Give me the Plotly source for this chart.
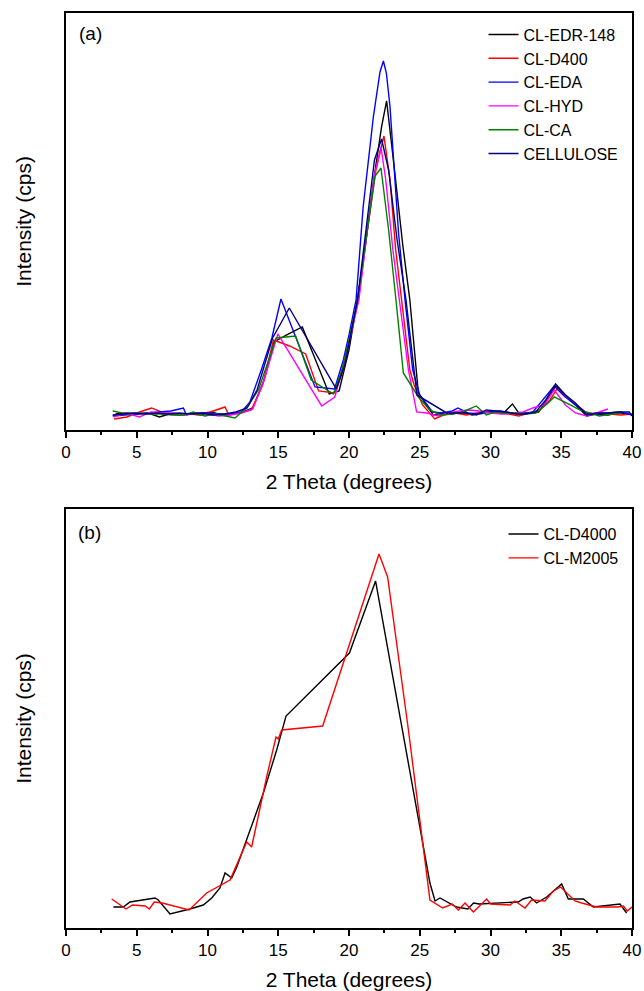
import plotly.graph_objects as go

# ---------------- Panel (a) data ----------------
edr_x = [3.5, 4.3, 5.0, 5.8, 6.6, 7.3, 8.0, 8.8, 9.5, 10.3, 11.0, 11.8, 12.5, 13.2, 14.0, 14.7, 15.6, 16.7, 18.6, 19.3,
         20.0, 20.6, 21.2, 21.8, 22.3, 22.66, 23.2, 23.8, 24.3, 24.9, 25.95, 26.6, 27.3, 28.0, 28.7, 29.5, 30.2, 31.0,
         31.55, 32.0, 32.7, 33.4, 34.0, 34.6, 35.3, 36.0, 36.8, 37.5, 38.3, 39.0, 39.8]
edr_y = [16, 17, 16, 17, 13, 16, 15, 16, 15, 18, 15, 16, 18, 22, 50, 88, 95, 103, 36, 39,
         80, 130, 190, 255, 303, 329, 262, 185, 130, 37, 15, 17, 16, 18, 15, 18, 19, 18,
         26, 17, 17, 18, 30, 44, 35, 25, 14, 16, 15, 17, 16]

d400_x = [3.4, 4.3, 5.2, 6.05, 6.9, 7.7, 8.5, 9.3, 10.2, 11.24, 11.5, 12.3, 13.1, 13.9, 14.66, 15.8, 16.94, 17.85, 19.0,
          19.6, 20.2, 20.66, 21.3, 21.9, 22.47, 22.9, 23.3, 23.72, 24.3, 24.6, 25.2, 26.06, 26.7, 27.5, 28.3, 29.0, 29.8,
          30.5, 31.3, 32.0, 32.8, 33.5, 34.2, 34.7, 35.4, 36.2, 36.9, 37.6, 38.4, 39.2, 40.0]
d400_y = [11, 13, 18, 22, 17, 16, 16, 16, 18, 23, 15, 17, 20, 45, 90, 84, 76, 39, 37,
          60, 100, 130, 200, 260, 294, 250, 180, 130, 60, 45, 25, 11, 15, 17, 15, 17, 18,
          17, 16, 14, 17, 20, 30, 41, 33, 24, 16, 17, 16, 15, 16]

eda_x = [3.3, 4.2, 5.0, 5.8, 6.6, 7.4, 8.3, 8.5, 9.2, 10.0, 10.8, 11.6, 12.4, 13.0, 13.8, 14.55, 15.19, 17.6, 18.98,
         19.6, 20.0, 20.5, 21.0, 21.72, 22.19, 22.43, 22.64, 22.9, 23.5, 23.96, 24.5, 25.0, 25.9, 26.6, 27.3, 27.7, 28.4,
         29.2, 30.0, 30.7, 31.5, 32.2, 33.0, 33.7, 34.5, 35.2, 36.0, 36.8, 37.5, 38.3, 39.2, 40.0]
eda_y = [14, 15, 16, 17, 18, 19, 22, 15, 17, 17, 16, 16, 18, 28, 60, 92, 131, 43, 41,
         70, 95, 130, 223, 313, 358, 369, 357, 323, 197, 130, 60, 35, 18, 17, 19, 22, 17,
         16, 18, 19, 17, 16, 18, 30, 44, 34, 25, 17, 16, 17, 18, 15]

hyd_x = [3.35, 4.2, 5.2, 6.0, 6.8, 7.6, 8.4, 9.2, 10.0, 10.8, 11.6, 12.4, 13.2, 14.0, 14.97, 16.5, 18.07, 19.0, 19.7,
         20.2, 20.7, 21.3, 21.8, 22.26, 22.6, 23.1, 23.57, 24.2, 24.78, 25.5, 26.3, 27.0, 27.8, 28.5, 29.2, 30.0, 30.8,
         31.5, 32.3, 33.0, 33.8, 34.5, 35.3, 36.0, 36.8, 37.5, 38.3]
hyd_y = [13, 17, 13, 18, 17, 17, 15, 17, 16, 14, 15, 17, 21, 50, 96, 60, 24, 33, 70,
         100, 130, 200, 255, 283, 250, 180, 130, 60, 18, 17, 14, 17, 19, 20, 19, 17, 16,
         17, 18, 22, 25, 40, 25, 17, 14, 17, 21]

ca_x = [3.3, 4.3, 5.1, 5.9, 6.7, 7.5, 8.3, 9.0, 9.8, 10.6, 11.94, 12.76, 13.6, 14.3, 14.85, 16.23, 17.33, 18.9, 19.5,
        20.0, 20.6, 21.3, 21.84, 22.26, 22.8, 23.32, 23.84, 24.9, 25.7, 26.5, 27.2, 28.0, 29.0, 29.7, 30.3, 31.0, 31.8,
        32.5, 33.2, 34.0, 34.5, 35.5, 36.3, 37.0, 37.7, 38.5, 39.3]
ca_y = [19, 16, 17, 16, 16, 15, 15, 18, 14, 16, 12, 22, 40, 70, 92, 94, 50, 36, 60,
        90, 130, 200, 254, 262, 200, 130, 57, 33, 20, 15, 16, 18, 24, 15, 18, 17, 17,
        16, 17, 26, 33, 26, 20, 17, 14, 16, 17]

cel_x = [3.3, 4.0, 4.8, 5.6, 6.4, 7.2, 8.0, 8.8, 9.6, 10.4, 11.2, 12.0, 12.8, 13.5, 14.6, 15.78, 19.1, 19.7, 20.2,
         20.6, 21.2, 21.8, 22.3, 22.8, 23.4, 24.03, 24.8, 26.9, 27.6, 28.3, 29.0, 29.7, 30.4, 31.1, 31.8, 32.5, 33.2,
         33.9, 34.6, 35.3, 36.0, 36.8, 37.5, 38.3, 39.0, 39.8, 40.0]
cel_y = [15, 16, 17, 16, 17, 16, 17, 16, 17, 15, 16, 18, 22, 40, 92, 122, 41, 65, 100,
         130, 200, 270, 291, 260, 190, 130, 35, 17, 17, 17, 15, 20, 19, 18, 16, 16, 18,
         30, 46, 35, 27, 15, 17, 17, 18, 18, 14]

# ---------------- Panel (b) data ----------------
d4000_x = [3.35, 4.05, 4.52, 6.29, 6.52, 7.35, 8.76, 9.7, 10.3, 10.88, 11.24, 11.71, 12.07, 12.77, 13.95, 14.89, 15.55,
           20.03, 21.88, 25.72, 26.08, 26.43, 27.6, 28.4, 28.8, 29.2, 30.67, 31.96, 32.3, 32.8, 33.26, 33.97, 35.03,
           35.5, 36.56, 37.27, 39.15, 39.62]
d4000_y = [21, 21, 26, 30, 28, 14, 19, 23, 30, 40, 55, 50, 61, 88, 135, 178, 212,
           275, 347, 45, 27, 30, 21, 19, 25, 24, 25, 26, 29, 31, 25, 31, 44,
           29, 29, 21, 24, 15]

m2005_x = [3.23, 4.24, 4.7, 5.6, 5.89, 6.24, 6.8, 8.7, 9.94, 11.59, 12.77, 13.12, 14.18, 14.84, 15.0, 15.24, 18.14,
           22.12, 22.73, 24.2, 25.72, 26.62, 27.3, 27.73, 28.2, 28.79, 29.73, 30.0, 31.38, 31.73, 32.44, 32.9, 33.85,
           34.44, 34.96, 35.97, 36.44, 37.5, 39.0, 39.4, 39.67, 40.0]
m2005_y = [29, 19, 23, 22, 19, 26, 25, 18, 35, 48, 86, 81, 151, 191, 189, 198, 202,
           374, 351, 198, 28, 20, 24, 18, 25, 16, 29, 24, 23, 27, 20, 28, 27,
           37, 41, 27, 25, 21, 21, 22, 17, 21]

x_ticks = [0, 5, 10, 15, 20, 25, 30, 35, 40]

FONT = "Liberation Sans, Arial, sans-serif"

series_a = [
    ("CL-EDR-148", edr_x, edr_y, "#000000"),
    ("CL-D400", d400_x, d400_y, "#FF0000"),
    ("CL-EDA", eda_x, eda_y, "#0000FF"),
    ("CL-HYD", hyd_x, hyd_y, "#FF00FF"),
    ("CL-CA", ca_x, ca_y, "#008000"),
    ("CELLULOSE", cel_x, cel_y, "#000080"),
]
series_b = [
    ("CL-D4000", d4000_x, d4000_y, "#000000"),
    ("CL-M2005", m2005_x, m2005_y, "#FF0000"),
]

fig = go.Figure()
for name, xs, ys, col in series_a:
    fig.add_trace(go.Scatter(x=xs, y=ys, mode="lines", name=name,
                             line=dict(color=col, width=1.4),
                             xaxis="x", yaxis="y", legend="legend"))
for name, xs, ys, col in series_b:
    fig.add_trace(go.Scatter(x=xs, y=ys, mode="lines", name=name,
                             line=dict(color=col, width=1.4),
                             xaxis="x2", yaxis="y2", legend="legend2"))


def xax(domain_anchor):
    return dict(
        anchor=domain_anchor, domain=[0, 1], range=[0, 40],
        tickmode="array", tickvals=x_ticks, ticktext=[str(v) for v in x_ticks],
        ticks="outside", ticklen=6, tickwidth=1.5, tickcolor="black",
        minor=dict(ticks="outside", ticklen=3, tickwidth=1.5, tickcolor="black",
                   tick0=0, dtick=2.5, showgrid=False),
        showline=True, mirror=True, linecolor="black", linewidth=1.5,
        showgrid=False, zeroline=False, automargin=False,
        tickfont=dict(family=FONT, size=17, color="black"),
        title=dict(text="2 Theta (degrees)", font=dict(family=FONT, size=21, color="black"), standoff=13),
    )


def yax(domain, rng, anchor):
    return dict(
        anchor=anchor, domain=domain, range=rng,
        showticklabels=False, ticks="", showline=True, mirror=True,
        linecolor="black", linewidth=1.5, showgrid=False, zeroline=False,
        automargin=False,
        title=dict(text="Intensity (cps)", font=dict(family=FONT, size=21, color="black"), standoff=27),
    )


fig.update_layout(
    width=644, height=991,
    margin=dict(l=66, r=12, t=13, b=63),
    paper_bgcolor="white", plot_bgcolor="white",
    font=dict(family=FONT, color="black"),
    xaxis=xax("y"),
    yaxis=yax([0.5443, 1.0], [0, 417], "x"),
    xaxis2=xax("y2"),
    yaxis2=yax([0.0, 0.4579], [0, 419], "x2"),
    legend=dict(x=0.985, xanchor="right", y=0.995, yanchor="top",
                font=dict(family=FONT, size=16, color="black"),
                bgcolor="rgba(0,0,0,0)", borderwidth=0, tracegroupgap=0,
                itemwidth=30),
    legend2=dict(x=0.985, xanchor="right", y=0.449, yanchor="top",
                 font=dict(family=FONT, size=16, color="black"),
                 bgcolor="rgba(0,0,0,0)", borderwidth=0, tracegroupgap=0,
                 itemwidth=30),
    annotations=[
        dict(text="(a)", xref="x domain", yref="y domain", x=0.02, y=0.95,
             xanchor="left", yanchor="middle", showarrow=False,
             font=dict(family=FONT, size=19, color="black")),
        dict(text="(b)", xref="x2 domain", yref="y2 domain", x=0.018, y=0.945,
             xanchor="left", yanchor="middle", showarrow=False,
             font=dict(family=FONT, size=19, color="black")),
    ],
)

fig.write_html("out.html")
